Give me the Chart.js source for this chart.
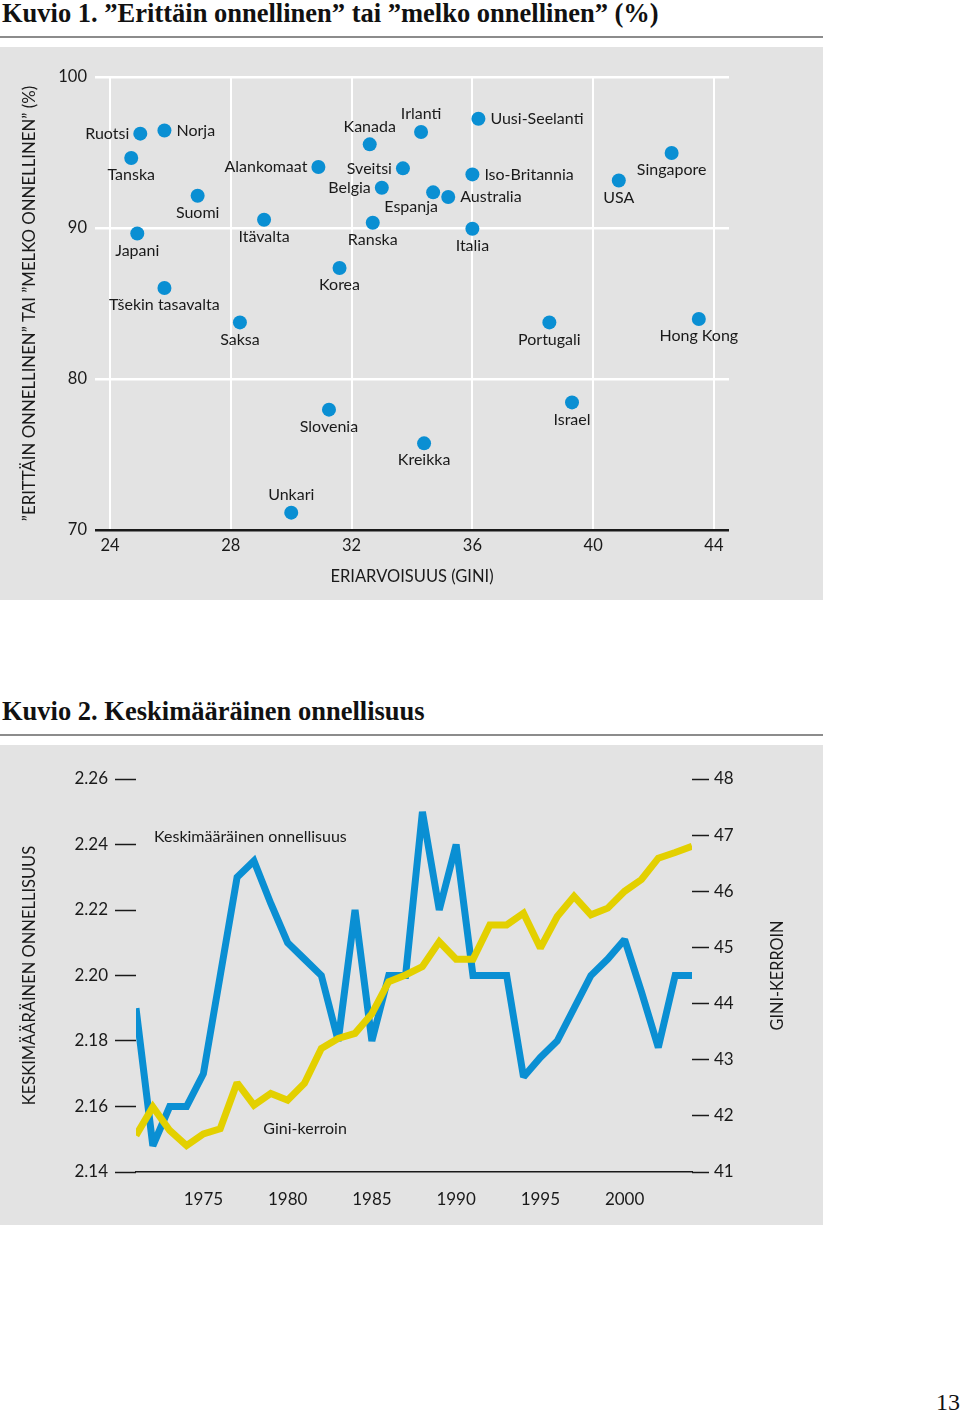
<!DOCTYPE html>
<html>
<head>
<meta charset="utf-8">
<script src="https://cdn.jsdelivr.net/npm/chart.js@4.4.1/dist/chart.umd.min.js"></script>
<style>
body { margin: 0; width: 960px; height: 1414px; background: #fff; position: relative; overflow: hidden; font-family: Lato, sans-serif; }
.title { position: absolute; left: 2px; font: bold 26.5px "Liberation Serif", serif; color: #111; white-space: nowrap; }
.rule { position: absolute; left: 0; width: 823px; height: 2px; background: #8c8c8c; }
.panel { position: absolute; left: 0; width: 823px; background: #e3e3e3; }
.panel canvas { display: block; }
#page { position: absolute; right: 0px; top: 1389px; font: 24px "Liberation Serif", serif; color: #111; }
</style>
</head>
<body>
<div class="title" style="top:-2px">Kuvio 1. ”Erittäin onnellinen” tai ”melko onnellinen” (%)</div>
<div class="rule" style="top:36px"></div>
<div class="panel" style="top:47px;height:553px"><canvas id="c1" width="823" height="553"></canvas></div>

<div class="title" style="top:696px">Kuvio 2. Keskimääräinen onnellisuus</div>
<div class="rule" style="top:734px"></div>
<div class="panel" style="top:745px;height:480px"><canvas id="c2" width="823" height="480"></canvas></div>

<div id="page">13</div>

<script>
// Kuvio 1: maat, Gini ja osuus onnellisista
var countries = ['Ruotsi', 'Norja', 'Tanska', 'Suomi', 'Japani', 'Tšekin tasavalta', 'Itävalta', 'Saksa',
  'Alankomaat', 'Korea', 'Kanada', 'Irlanti', 'Sveitsi', 'Belgia', 'Ranska', 'Espanja', 'Australia',
  'Uusi-Seelanti', 'Iso-Britannia', 'Italia', 'USA', 'Singapore', 'Portugali', 'Hong Kong',
  'Slovenia', 'Israel', 'Kreikka', 'Unkari'];
var giniValues = [25.0, 25.8, 24.7, 26.9, 24.9, 25.8, 29.1, 28.3,
  30.9, 31.6, 32.6, 34.3, 33.7, 33.0, 32.7, 34.7, 35.2,
  36.2, 36.0, 36.0, 40.85, 42.6, 38.55, 43.5,
  31.25, 39.3, 34.4, 30.0];
var happyPct = [96.25, 96.46, 94.64, 92.14, 89.64, 86.03, 90.55, 83.75,
  94.04, 87.35, 95.54, 96.36, 93.95, 92.67, 90.35, 92.36, 92.05,
  97.24, 93.55, 89.95, 93.15, 94.97, 83.75, 83.97,
  77.97, 78.45, 75.74, 71.15];
// which side of the dot the name goes
var labelSide = ['l', 'r', 'b', 'b', 'b', 'b', 'b', 'b',
  'l', 'b', 't', 't', 'l', 'l', 'b', 'bl', 'r',
  'r', 'r', 'b', 'b', 'b', 'b', 'b',
  'b', 'b', 'b', 't'];
var xTicks1 = [24, 28, 32, 36, 40, 44];

// Kuvio 2: vuodet, keskimääräinen onnellisuus ja Gini-kerroin
var years = [1971, 1972, 1973, 1974, 1975, 1976, 1977, 1978, 1979, 1980,
  1981, 1982, 1983, 1984, 1985, 1986, 1987, 1988, 1989, 1990,
  1991, 1992, 1993, 1994, 1995, 1996, 1997, 1998, 1999, 2000,
  2001, 2002, 2003, 2004];
var meanHappiness = [2.190, 2.148, 2.160, 2.160, 2.170, 2.200, 2.230, 2.235, 2.222, 2.210,
  2.205, 2.200, 2.180, 2.220, 2.180, 2.200, 2.200, 2.250, 2.220, 2.240,
  2.200, 2.200, 2.200, 2.169, 2.175, 2.180, 2.190, 2.200, 2.205, 2.211,
  2.195, 2.178, 2.200, 2.200];
var giniCoef = [41.65, 42.16, 41.74, 41.47, 41.68, 41.77, 42.59, 42.19, 42.40, 42.28,
  42.58, 43.20, 43.38, 43.47, 43.82, 44.39, 44.51, 44.66, 45.10, 44.79,
  44.79, 45.40, 45.40, 45.61, 44.99, 45.55, 45.91, 45.58, 45.70, 46.00,
  46.21, 46.59, 46.69, 46.80];
var xTicks2 = [1975, 1980, 1985, 1990, 1995, 2000];

Chart.defaults.font.family = 'Lato, sans-serif';
Chart.defaults.color = '#1a1a1a';

var BLUE = '#0a8fd3';
var YELLOW = '#e3d000';

var pointLabels = {
  id: 'pointLabels',
  afterDatasetsDraw: function (chart) {
    var ctx = chart.ctx;
    var pts = chart.getDatasetMeta(0).data;
    ctx.save();
    ctx.font = '16px Lato, sans-serif';
    ctx.fillStyle = '#1a1a1a';
    ctx.textBaseline = 'middle';
    pts.forEach(function (p, i) {
      var side = labelSide[i];
      var x = p.x, y = p.y;
      if (side === 'l') { ctx.textAlign = 'right'; x -= 11; }
      else if (side === 'r') { ctx.textAlign = 'left'; x += 12; }
      else if (side === 't') { ctx.textAlign = 'center'; y -= 18; }
      else if (side === 'bl') { ctx.textAlign = 'center'; x -= 22; y += 14; }
      else { ctx.textAlign = 'center'; y += 17; }
      ctx.fillText(countries[i], x, y);
    });
    ctx.restore();
  }
};

new Chart(document.getElementById('c1'), {
  type: 'scatter',
  data: {
    datasets: [{
      data: giniValues.map(function (g, i) { return {x: g, y: happyPct[i]}; }),
      backgroundColor: BLUE,
      borderWidth: 0,
      pointRadius: 7,
      pointHoverRadius: 7
    }]
  },
  options: {
    responsive: false,
    devicePixelRatio: 1,
    animation: false,
    events: [],
    layout: {padding: {left: 0, right: 94, top: 30, bottom: 0}},
    plugins: {legend: {display: false}, tooltip: {enabled: false}},
    scales: {
      x: {
        type: 'linear', min: 23.5, max: 44.5,
        afterBuildTicks: function (s) { s.ticks = xTicks1.map(function (v) { return {value: v}; }); },
        afterFit: function (s) { s.height = 70; },
        grid: {color: '#ffffff', lineWidth: 2, drawTicks: false},
        border: {display: false},
        ticks: {padding: 6, font: {size: 16.5}, color: '#1a1a1a'},
        title: {display: true, text: 'ERIARVOISUUS (GINI)', font: {size: 16.5}, color: '#1a1a1a', padding: {top: 0, bottom: 13}}
      },
      y: {
        min: 70, max: 100,
        ticks: {stepSize: 10, padding: 8, font: {size: 16.5}, color: '#1a1a1a'},
        afterFit: function (s) { s.width = 95; },
        grid: {
          color: function (c) { return c.tick && c.tick.value === 70 ? '#1a1a1a' : '#ffffff'; },
          lineWidth: 2.5, drawTicks: false
        },
        border: {display: false},
        title: {display: true, text: '”ERITTÄIN ONNELLINEN” TAI ”MELKO ONNELLINEN” (%)', font: {size: 16.8}, color: '#1a1a1a', padding: {top: 20, bottom: 0}}
      }
    }
  },
  plugins: [pointLabels]
});

var lineExtras = {
  id: 'lineExtras',
  beforeDatasetsDraw: function (chart) {
    chart.ctx.miterLimit = 2;
  },
  afterDraw: function (chart) {
    var ctx = chart.ctx;
    var x = chart.scales.x, y = chart.scales.y, y1 = chart.scales.y1;
    ctx.save();
    ctx.fillStyle = '#1a1a1a';
    ctx.font = '16px Lato, sans-serif';
    ctx.textAlign = 'left';
    ctx.textBaseline = 'middle';
    ctx.fillText('Keskimääräinen onnellisuus', x.getPixelForValue(1972.07), y.getPixelForValue(2.2423));
    ctx.fillText('Gini-kerroin', x.getPixelForValue(1978.56), y1.getPixelForValue(41.76));
    // right axis title, reads upwards
    var ca = chart.chartArea;
    ctx.translate(778, (ca.top + ca.bottom) / 2);
    ctx.rotate(-Math.PI / 2);
    ctx.textAlign = 'center';
    ctx.font = '16.3px Lato, sans-serif';
    ctx.fillText('GINI-KERROIN', 0, 0);
    ctx.restore();
  }
};

new Chart(document.getElementById('c2'), {
  type: 'line',
  data: {
    labels: years,
    datasets: [{
      label: 'Gini-kerroin',
      data: years.map(function (yr, i) { return {x: yr, y: giniCoef[i]}; }),
      yAxisID: 'y1',
      borderColor: YELLOW,
      borderWidth: 7,
      borderJoinStyle: 'miter',
      borderCapStyle: 'butt',
      pointRadius: 0,
      tension: 0
    }, {
      label: 'Keskimääräinen onnellisuus',
      data: years.map(function (yr, i) { return {x: yr, y: meanHappiness[i]}; }),
      yAxisID: 'y',
      borderColor: BLUE,
      borderWidth: 7,
      borderJoinStyle: 'miter',
      borderCapStyle: 'butt',
      pointRadius: 0,
      tension: 0
    }]
  },
  options: {
    responsive: false,
    devicePixelRatio: 1,
    animation: false,
    events: [],
    layout: {padding: {left: 0, right: 0, top: 34, bottom: 0}},
    plugins: {legend: {display: false}, tooltip: {enabled: false}},
    scales: {
      x: {
        type: 'linear', min: 1971, max: 2004,
        afterBuildTicks: function (s) { s.ticks = xTicks2.map(function (v) { return {value: v}; }); },
        afterFit: function (s) { s.height = 53; },
        grid: {display: false},
        border: {display: true, color: '#1a1a1a', width: 1.5},
        ticks: {padding: 9, font: {size: 17}, color: '#1a1a1a',
          callback: function (v) { return String(v); }}
      },
      y: {
        position: 'left',
        min: 2.14, max: 2.26,
        ticks: {stepSize: 0.02, padding: 7, font: {size: 17}, color: '#1a1a1a',
          callback: function (v) { return v.toFixed(2); }},
        afterFit: function (s) { s.width = 136; },
        grid: {drawOnChartArea: false, drawTicks: true, tickLength: 21, tickColor: '#1a1a1a', tickWidth: 1.5},
        border: {display: false},
        title: {display: true, text: 'KESKIMÄÄRÄINEN ONNELLISUUS', font: {size: 16.5}, color: '#1a1a1a', padding: {top: 20, bottom: 0}}
      },
      y1: {
        position: 'right',
        min: 41, max: 48,
        ticks: {stepSize: 1, padding: 5, font: {size: 17}, color: '#1a1a1a'},
        afterFit: function (s) { s.width = 131; },
        grid: {drawOnChartArea: false, drawTicks: true, tickLength: 17, tickColor: '#1a1a1a', tickWidth: 1.5},
        border: {display: false}
      }
    }
  },
  plugins: [lineExtras]
});
</script>
</body>
</html>
